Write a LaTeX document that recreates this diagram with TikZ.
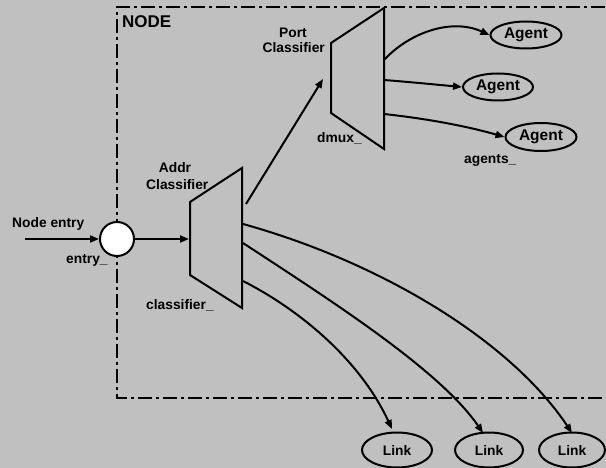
\documentclass[tikz,border=0pt]{standalone}
\usepackage{fontspec}
\setmainfont{Liberation Sans}
\usetikzlibrary{arrows.meta,shapes.geometric}
\definecolor{bg}{RGB}{192,192,192}
\tikzset{
  lbl/.style={font=\fontsize{13.8}{15}\selectfont\bfseries, inner sep=0pt},
  wire/.style={line width=2pt},
  arr/.style={wire, -{Triangle[length=9pt,width=7pt]}, shorten >=0pt},
  ell/.style={ellipse, draw, line width=2pt, fill=bg, inner sep=0pt, font=\fontsize{13.8}{15}\selectfont\bfseries},
  agentell/.style={ell, font=\fontsize{15.5}{17}\selectfont\bfseries},
  circ/.style={circle, draw, line width=2pt, fill=white, minimum size=34pt, inner sep=0pt},
  trap/.style={line width=2pt, line join=miter},
  frame/.style={line width=2pt, dash pattern=on 14pt off 4pt on 3pt off 4pt}
}
\begin{document}
\begin{tikzpicture}[x=1pt,y=-1pt]
\useasboundingbox (0,0) rectangle (606,468);
\fill[bg] (0,0) rectangle (606,468);
\clip (0,0) rectangle (606,468);
% NODE frame
\draw[frame] (630,7) -- (117,7) -- (117,398) -- (630,398);
\node[lbl, font=\fontsize{17}{19}\selectfont\bfseries, anchor=west] (nodelbl) at (122,22) {NODE};
% entry
\node[circ] (entry) at (117,239) {};
\coordinate (src) at (25,239);
\draw[arr] (src) -- (entry);
\node[lbl, anchor=west] (nodeentry) at (12,224) {Node entry};
\node[lbl, anchor=west] (entrylbl) at (66,260) {entry\_};
% Addr classifier
\coordinate (a1) at (190,202);
\coordinate (a2) at (242,168);
\coordinate (a3) at (242,308);
\coordinate (a4) at (190,275);
\draw[trap] (a1) -- (a2) -- (a3) -- (a4) -- cycle;
\coordinate (ain) at (189,239);
\draw[arr] (entry) -- (ain);
\node[lbl] (addr) at (175,168) {Addr};
\node[lbl, anchor=west] (addrcls) at (146,185) {Classifier};
\node[lbl, anchor=west] (clsname) at (146,305) {classifier\_};
% Port classifier
\coordinate (p1) at (331,43);
\coordinate (p2) at (384,8);
\coordinate (p3) at (384,149);
\coordinate (p4) at (331,113);
\draw[trap] (p1) -- (p2) -- (p3) -- (p4) -- cycle;
\node[lbl] (port) at (293,33) {Port};
\node[lbl, anchor=east] (portcls) at (325,48) {Classifier};
\node[lbl, anchor=west] (dmux) at (317,138) {dmux\_};
\coordinate (aout) at (246,204);
\coordinate (pin) at (323,79);
\draw[arr] (aout) -- (pin);
% Agents
\node[agentell, minimum width=71pt, minimum height=27pt] (ag1) at (526,35) {Agent};
\node[agentell, minimum width=70pt, minimum height=27pt] (ag2) at (498,87) {Agent};
\node[agentell, minimum width=71pt, minimum height=28pt] (ag3) at (541,137) {Agent};
\node[lbl, anchor=west] (agents) at (464,160) {agents\_};
\coordinate (po1) at (384,60);
\coordinate (po2) at (384,80);
\coordinate (po3) at (384,114);
\draw[arr] (po1) .. controls (410,32) and (452,18) .. (ag1.west);
\draw[arr] (po2) .. controls (410,82) and (440,85) .. (ag2.west);
\draw[arr] (po3) .. controls (430,119) and (470,127) .. (ag3.west);
% Links
\node[ell, minimum width=70pt, minimum height=35pt] (l1) at (397,450) {Link};
\node[ell, minimum width=68pt, minimum height=35pt] (l2) at (489,450) {Link};
\node[ell, minimum width=66pt, minimum height=35pt] (l3) at (572,450) {Link};
\coordinate (ao1) at (243,224);
\coordinate (ao2) at (243,243);
\coordinate (ao3) at (243,281);
\coordinate (t1) at (392,429);
\coordinate (t2) at (483,433);
\coordinate (t3) at (572,433);
\draw[arr] (ao1) .. controls (380,262) and (510,340) .. (t3);
\draw[arr] (ao2) .. controls (330,300) and (440,370) .. (t2);
\draw[arr] (ao3) .. controls (300,310) and (360,360) .. (t1);
\end{tikzpicture}
\end{document}
